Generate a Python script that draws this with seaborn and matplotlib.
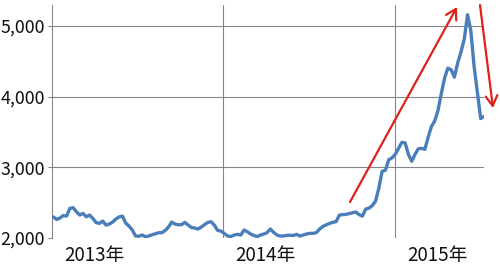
import matplotlib
matplotlib.use("Agg")
import matplotlib.pyplot as plt
import matplotlib.transforms as mtransforms
import seaborn as sns
import pandas as pd

# ---- data (weekly close) ----
start_date = "2013-01-04"
index_values = [
    2297, 2262, 2283, 2318, 2310, 2418, 2430, 2371, 2325, 2348,
    2300, 2325, 2277, 2218, 2207, 2239, 2183, 2197, 2225, 2268,
    2299, 2310, 2211, 2169, 2113, 2028, 2025, 2042, 2018, 2028,
    2046, 2059, 2075, 2075, 2106, 2155, 2225, 2197, 2187, 2190,
    2221, 2183, 2148, 2141, 2127, 2155, 2190, 2221, 2230, 2179,
    2106, 2099, 2063, 2028, 2021, 2042, 2052, 2042, 2113, 2089,
    2056, 2035, 2021, 2042, 2056, 2077, 2127, 2080, 2042, 2028,
    2028, 2038, 2038, 2035, 2052, 2028, 2042, 2056, 2066, 2066,
    2077, 2127, 2165, 2186, 2207, 2221, 2232, 2324, 2330, 2334,
    2345, 2355, 2368, 2331, 2310, 2408, 2423, 2458, 2521, 2704,
    2944, 2958, 3106, 3134, 3183, 3268, 3352, 3345, 3183, 3085,
    3183, 3261, 3268, 3254, 3423, 3577, 3655, 3803, 4042, 4261,
    4402, 4380, 4275, 4479, 4630, 4817, 5160, 4930, 4420, 4050,
    3690, 3720,
]
year_ticks = ["2013-01-01", "2014-01-01", "2015-01-01"]
year_labels = ["2013年", "2014年", "2015年"]
y_ticks = [2000, 3000, 4000, 5000]
y_tick_labels = ["2,000", "3,000", "4,000", "5,000"]
x_left = "2013-01-01"
y_min, y_max = 2000, 5296

dates = pd.date_range(start_date, periods=len(index_values), freq="W-FRI")
df = pd.DataFrame({"date": dates, "value": index_values})

sns.set_theme(style="white")
plt.rcParams["font.family"] = ["Noto Sans CJK JP", "DejaVu Sans"]

fig = plt.figure(figsize=(5.0, 2.7), dpi=100)
ax = fig.add_axes([0.104, 0.1185, 0.864, 0.863])

sns.lineplot(data=df, x="date", y="value", ax=ax, color="#4A7EBB",
             linewidth=2.4, zorder=3)

ax.set_xlim(pd.Timestamp(x_left), dates[-1])
ax.set_ylim(y_min, y_max)
ax.set_xlabel("")
ax.set_ylabel("")

grid_color = "#878787"
ax.set_yticks(y_ticks)
ax.set_yticklabels(y_tick_labels)
ax.set_xticks(pd.to_datetime(year_ticks))
ax.set_xticklabels(year_labels)

ax.grid(True, axis="both", color=grid_color, linewidth=0.8)
ax.get_ygridlines()[0].set_visible(False)
ax.get_xgridlines()[0].set_visible(False)

for s in ["top", "right", "bottom"]:
    ax.spines[s].set_visible(False)
ax.spines["left"].set_color(grid_color)
ax.spines["left"].set_linewidth(0.8)

ax.tick_params(axis="y", which="major", left=True, length=3, width=0.8,
               color=grid_color, pad=2, labelsize=12.8, labelcolor="#111111")
ax.tick_params(axis="x", which="major", length=0, pad=5, labelsize=13.5,
               labelcolor="#111111")

offset = mtransforms.ScaledTranslation(12 / 100, 0, fig.dpi_scale_trans)
for lbl in ax.get_xticklabels():
    lbl.set_horizontalalignment("left")
    lbl.set_transform(lbl.get_transform() + offset)

# red arrows (figure fraction coordinates)
arrow_color = "#E0201B"
arrows = [((350 / 500, 68 / 270), (457 / 500, 263 / 270)),
          ((480 / 500, 265 / 270), (493 / 500, 162 / 270))]
for (x0, y0), (x1, y1) in arrows:
    ax.annotate("", xy=(x1, y1), xycoords="figure fraction",
                xytext=(x0, y0), textcoords="figure fraction",
                annotation_clip=False,
                arrowprops=dict(arrowstyle="->,head_length=0.6,head_width=0.35",
                                color=arrow_color, lw=1.6,
                                mutation_scale=12, shrinkA=0, shrinkB=0))

fig.savefig("out.png", dpi=100)
